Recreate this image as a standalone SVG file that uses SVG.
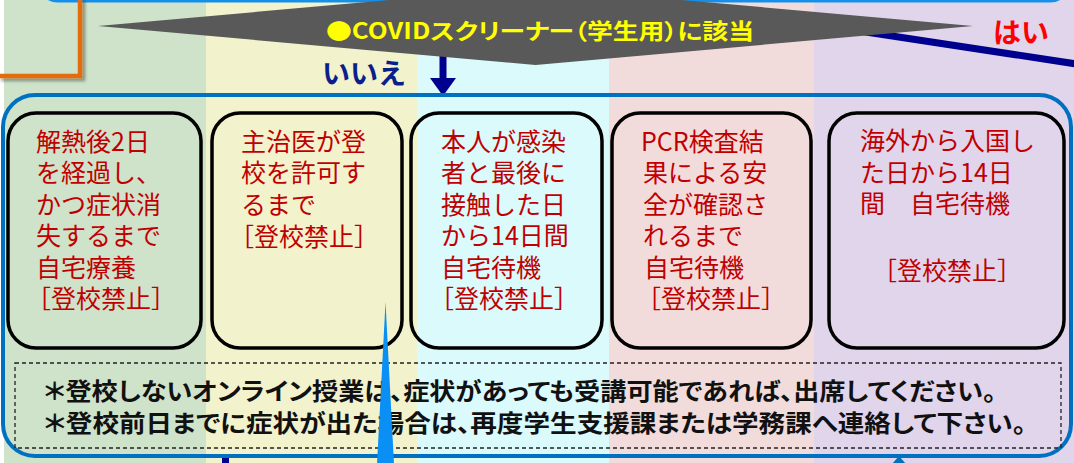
<svg xmlns="http://www.w3.org/2000/svg" width="1074" height="463" viewBox="0 0 1074 463">
  <defs>
    <style>
      .box { fill: none; stroke: #000; stroke-width: 3.5; }
      .btxt { font-family: "Noto Sans CJK JP", "Noto Sans CJK SC", sans-serif; font-size: 25px; fill: #C00000; }
      .note { font-family: "Noto Sans CJK JP", "Noto Sans CJK SC", sans-serif; font-size: 24px; font-weight: bold; fill: #111; font-feature-settings: "palt"; }
      .lbl { font-family: "Noto Sans CJK JP", "Noto Sans CJK SC", sans-serif; font-weight: bold; }
      .pal { font-feature-settings: "palt"; }
    </style>
    <marker id="navyHead" markerUnits="userSpaceOnUse" markerWidth="18" markerHeight="26" refX="0" refY="13" orient="auto" viewBox="0 0 18 26">
      <path d="M0,0 L18,13 L0,26 Z" fill="#00008E"/>
    </marker>
    <filter id="shadow" x="-20%" y="-20%" width="150%" height="150%">
      <feDropShadow dx="3" dy="3" stdDeviation="1.5" flood-color="#000" flood-opacity="0.35"/>
    </filter>
  </defs>

  <!-- background columns -->
  <g id="background">
    <rect x="0" y="0" width="1074" height="463" fill="#FFFFFF"/>
    <rect x="4" y="0" width="202" height="463" fill="#CFE2CA"/>
    <rect x="206" y="0" width="211" height="463" fill="#F2F2CC"/>
    <rect x="417" y="0" width="192" height="463" fill="#DAFAFC"/>
    <rect x="609" y="0" width="205" height="463" fill="#F2DCDB"/>
    <rect x="814" y="0" width="260" height="463" fill="#E1D5EC"/>
  </g>

  <!-- bottom edge of the box above (cut off) -->
  <g id="top-box">
    <rect x="38" y="-40" width="1032" height="41" rx="20" fill="none" stroke="#1590EA" stroke-width="3"/>
  </g>

  <g id="connectors">
    <!-- orange elbow -->
    <path d="M80,-2 L80,76 L-2,76" fill="none" stroke="#E46C0A" stroke-width="4.5" filter="url(#shadow)"/>
    <!-- navy line to the right (yes branch) -->
    <line x1="760" y1="16" x2="1080" y2="64.5" stroke="#00008E" stroke-width="7"/>
    <!-- no branch arrow -->
    <line x1="443" y1="56" x2="443" y2="78" stroke="#00008E" stroke-width="7" marker-end="url(#navyHead)"/>
    <!-- lower stubs -->
    <line x1="225.5" y1="456" x2="225.5" y2="464" stroke="#00008E" stroke-width="7"/>
    <polygon points="899,456 892,464 906,464" fill="#0070C0"/>
  </g>

  <!-- decision -->
  <g id="decision">
    <polygon points="98,26 535.5,-13 973,26 535.5,65" fill="#595959"/>
    <text class="lbl pal" x="326" y="39" font-size="22" fill="#FFFF00" textLength="428" lengthAdjust="spacingAndGlyphs">●COVIDスクリーナー（学生用）に該当</text>
  </g>

  <g id="label-no">
    <text class="lbl" x="322" y="84" font-size="28" fill="#0A1E8C">いいえ</text>
  </g>
  <g id="label-yes">
    <text class="lbl" x="993" y="43" font-size="28" fill="#FF0000">はい</text>
  </g>

  <!-- container -->
  <g id="container">
    <rect x="3" y="95" width="1068" height="361" rx="32" fill="none" stroke="#0070C0" stroke-width="4"/>
  </g>

  <g id="node1">
    <rect class="box" x="8" y="113" width="193" height="235" rx="28"/>
    <text class="btxt">
      <tspan x="36" y="151">解熱後2日</tspan>
      <tspan x="36" y="182">を経過し、</tspan>
      <tspan x="36" y="214">かつ症状消</tspan>
      <tspan x="36" y="245">失するまで</tspan>
      <tspan x="36" y="277">自宅療養</tspan>
      <tspan x="26" y="308">［登校禁止］</tspan>
    </text>
  </g>

  <g id="node2">
    <rect class="box" x="212" y="113" width="190" height="235" rx="28"/>
    <text class="btxt">
      <tspan x="241" y="151">主治医が登</tspan>
      <tspan x="241" y="182">校を許可す</tspan>
      <tspan x="241" y="214">るまで</tspan>
      <tspan x="229" y="246">［登校禁止］</tspan>
    </text>
  </g>

  <g id="node3">
    <rect class="box" x="411" y="113" width="191" height="235" rx="28"/>
    <text class="btxt">
      <tspan x="441" y="151">本人が感染</tspan>
      <tspan x="441" y="182">者と最後に</tspan>
      <tspan x="441" y="214">接触した日</tspan>
      <tspan x="441" y="245">から14日間</tspan>
      <tspan x="441" y="277">自宅待機</tspan>
      <tspan x="429" y="308">［登校禁止］</tspan>
    </text>
  </g>

  <g id="node4">
    <rect class="box" x="612" y="113" width="199" height="235" rx="28"/>
    <text class="btxt">
      <tspan x="641" y="151">PCR検査結</tspan>
      <tspan x="643" y="182">果による安</tspan>
      <tspan x="643" y="214">全が確認さ</tspan>
      <tspan x="643" y="245">れるまで</tspan>
      <tspan x="644" y="277">自宅待機</tspan>
      <tspan x="636" y="308">［登校禁止］</tspan>
    </text>
  </g>

  <g id="node5">
    <rect class="box" x="829" y="113" width="235" height="235" rx="28"/>
    <text class="btxt">
      <tspan x="860" y="150">海外から入国し</tspan>
      <tspan x="860" y="182">た日から14日</tspan>
      <tspan x="860" y="213">間　自宅待機</tspan>
      <tspan x="872" y="280">［登校禁止］</tspan>
    </text>
  </g>

  <g id="note">
    <rect x="15" y="363" width="1046" height="85" fill="none" stroke="#222" stroke-width="1.3" stroke-dasharray="4 3"/>
    <text class="note" x="44" y="400" textLength="952" lengthAdjust="spacingAndGlyphs">＊登校しないオンライン授業は、症状があっても受講可能であれば、出席してください。</text>
    <text class="note" x="44" y="432" textLength="982" lengthAdjust="spacingAndGlyphs">＊登校前日までに症状が出た場合は、再度学生支援課または学務課へ連絡して下さい。</text>
  </g>

  <!-- blue wedge in front -->
  <g id="wedge">
    <polygon points="385.5,302 377,464 394,464" fill="#0A8FF5"/>
  </g>
</svg>
